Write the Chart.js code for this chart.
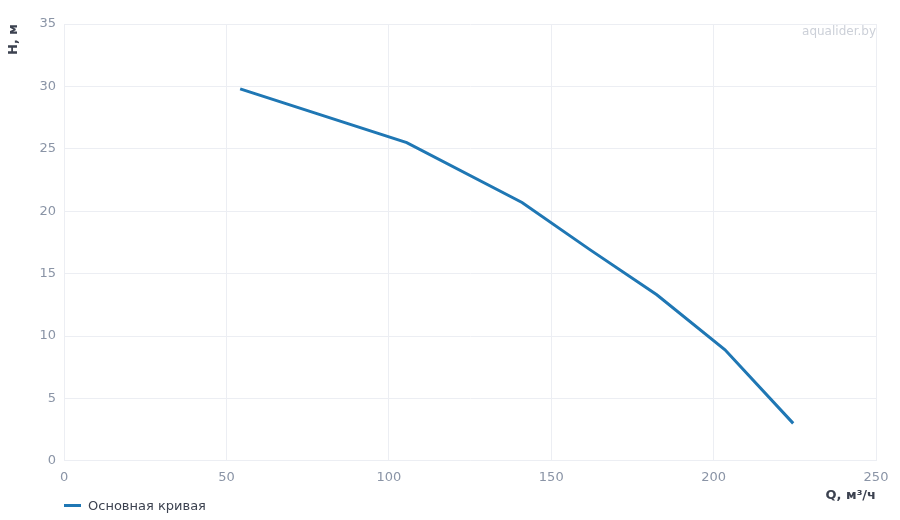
<!DOCTYPE html>
<html>
<head>
<meta charset="utf-8">
<script src="https://cdn.jsdelivr.net/npm/chart.js@4"></script>
<style>
  html, body { margin: 0; padding: 0; background: #fff; }
  #wrap { position: relative; width: 900px; height: 520px; }
  #legend { position: absolute; left: 64px; top: 498px; font: 13px "DejaVu Sans", sans-serif; color: #3c4250; display: flex; align-items: center; }
  #legend span.sw { display: inline-block; width: 17px; height: 3px; margin-right: 7px; }
</style>
</head>
<body>
<div id="wrap">
  <canvas id="chart" width="900" height="520"></canvas>
  <div id="legend"></div>
</div>
<script>
// pump curve: flow Q (m3/h) vs head H (m)
const flowQ = [54.2, 105.5, 141, 162, 182.5, 203.5, 224.5];
const headH = [29.8, 25.5, 20.7, 16.9, 13.3, 8.9, 3.0];
const seriesName = 'Основная кривая';
const xTicks = [0, 50, 100, 150, 200, 250];
const yTicks = [0, 5, 10, 15, 20, 25, 30, 35];

const lineColor = '#1f77b4';
const gridColor = '#eceef3';
const tickColor = '#8a94a6';
const titleColor = '#3c4250';
const fontFamily = '"DejaVu Sans", sans-serif';

// watermark in the upper right corner of the plot
const watermark = {
  id: 'watermark',
  afterDraw(chart){
    const a = chart.chartArea;
    const ctx = chart.ctx;
    ctx.save();
    ctx.font = '12px ' + fontFamily;
    ctx.fillStyle = '#ccd0d8';
    ctx.textAlign = 'right';
    ctx.textBaseline = 'middle';
    ctx.fillText('aqualider.by', a.right, a.top + 8);
    ctx.restore();
  }
};

const chart = new Chart(document.getElementById('chart'), {
  type: 'line',
  data: {
    datasets: [{
      label: seriesName,
      data: flowQ.map((q, i) => ({ x: q, y: headH[i] })),
      borderColor: lineColor,
      backgroundColor: lineColor,
      borderWidth: 3,
      pointRadius: 0,
      tension: 0,
      fill: false
    }]
  },
  options: {
    responsive: false,
    animation: false,
    layout: { padding: { left: 6, right: 24, top: 24, bottom: 17 } },
    plugins: {
      legend: { display: false },
      tooltip: { enabled: false }
    },
    scales: {
      x: {
        type: 'linear',
        min: xTicks[0],
        max: xTicks[xTicks.length - 1],
        afterBuildTicks: s => { s.ticks = xTicks.map(v => ({ value: v })); },
        grid: { color: gridColor, drawTicks: false },
        border: { color: gridColor },
        ticks: { color: tickColor, padding: 9, font: { family: fontFamily, size: 13 } },
        title: {
          display: true, text: 'Q, м³/ч', align: 'end', color: titleColor,
          font: { family: fontFamily, size: 13, weight: 'bold' }, padding: { top: -7, bottom: 0 }
        }
      },
      y: {
        type: 'linear',
        min: yTicks[0],
        max: yTicks[yTicks.length - 1],
        afterBuildTicks: s => { s.ticks = yTicks.map(v => ({ value: v })); },
        grid: { color: gridColor, drawTicks: false },
        border: { color: gridColor },
        ticks: { color: tickColor, padding: 8, font: { family: fontFamily, size: 13 } },
        title: {
          display: true, text: 'H, м', align: 'end', color: titleColor,
          font: { family: fontFamily, size: 13, weight: 'bold' }, padding: { top: 0, bottom: 10 }
        }
      }
    }
  },
  plugins: [watermark]
});

// html legend
const legendEl = document.getElementById('legend');
chart.data.datasets.forEach(ds => {
  const item = document.createElement('div');
  item.innerHTML = `<span class="sw" style="background:${ds.borderColor}"></span>${ds.label}`;
  item.style.display = 'flex';
  item.style.alignItems = 'center';
  legendEl.appendChild(item);
});
</script>
</body>
</html>
